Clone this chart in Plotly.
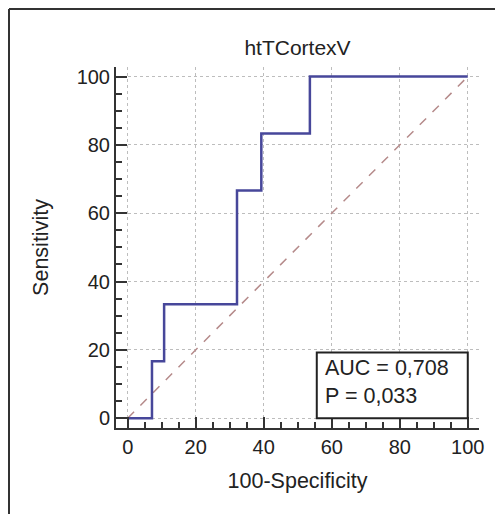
import plotly.graph_objects as go

# ROC step curve (28 negatives, 6 positives)
fpr = [0, 7.14, 7.14, 10.71, 10.71, 32.14, 32.14, 39.29, 39.29, 53.57, 53.57, 100]
tpr = [0, 0, 16.67, 16.67, 33.33, 33.33, 66.67, 66.67, 83.33, 83.33, 100, 100]
diag = [0, 100]
tick_vals = [0, 20, 40, 60, 80, 100]
title_text = "htTCortexV"
x_title = "100-Specificity"
y_title = "Sensitivity"
auc_text = "AUC = 0,708"
p_text = "P = 0,033"

# page body adds an 8px margin; figure sized to the visible area
W, H = 495, 506
L, R, T, B = 108, 24, 59, 86
pw, ph = W - L - R, H - T - B

def px(x):
    return (x - L) / pw

def py(y):
    return (H - B - y) / ph

FONT = "Liberation Sans, Arial, sans-serif"
TXT = "#222222"

fig = go.Figure()
fig.add_trace(go.Scatter(x=diag, y=diag, mode="lines",
                         line=dict(color="#b58a8a", width=1.5, dash="dash"),
                         hoverinfo="skip"))
fig.add_trace(go.Scatter(x=fpr, y=tpr, mode="lines",
                         line=dict(color="#47479a", width=2.5),
                         hoverinfo="skip"))

axis_common = dict(
    showline=True, linecolor="#333333", linewidth=2,
    ticks="inside", ticklen=11, tickwidth=2, tickcolor="#333333",
    tickvals=tick_vals,
    minor=dict(dtick=5, ticks="inside", ticklen=6, tickwidth=1.5,
               tickcolor="#333333", showgrid=False),
    showgrid=True, gridcolor="#bdbdbd", gridwidth=1, griddash="dot",
    zeroline=False, mirror=False,
    tickfont=dict(family=FONT, size=20, color=TXT),
)

fig.update_xaxes(range=[-3.44, 103.3], title=dict(text=x_title, standoff=16,
                 font=dict(family=FONT, size=21.5, color=TXT)), **axis_common)
fig.update_yaxes(range=[-2.87, 102.8], title=dict(text=y_title, standoff=22,
                 font=dict(family=FONT, size=21.5, color=TXT)), **axis_common)

# AUC box
fig.add_shape(type="rect", x0=55.6, x1=100, y0=0, y1=19.2,
              line=dict(color="#222222", width=2), fillcolor="white", layer="above")
fig.add_annotation(x=57.5, y=10.6, xanchor="left", yanchor="middle", align="left",
                   text=auc_text + "<br>" + p_text, showarrow=False,
                   font=dict(family=FONT, size=21.5, color=TXT))

# outer frame (top and left edges)
fig.add_shape(type="line", xref="paper", yref="paper",
              x0=px(1), x1=px(W + 5), y0=py(1), y1=py(1),
              line=dict(color="#333333", width=2))
fig.add_shape(type="line", xref="paper", yref="paper",
              x0=px(1), x1=px(1), y0=py(1), y1=py(H + 5),
              line=dict(color="#333333", width=2))

fig.update_layout(
    width=W, height=H,
    margin=dict(l=L, r=R, t=T, b=B, autoexpand=False),
    paper_bgcolor="white", plot_bgcolor="white",
    showlegend=False,
    title=dict(text=title_text, x=0.5, xref="paper", y=1 - 40 / H,
               yref="container", yanchor="middle", xanchor="center",
               font=dict(family=FONT, size=21, color=TXT)),
)

fig.write_html("out.html")
